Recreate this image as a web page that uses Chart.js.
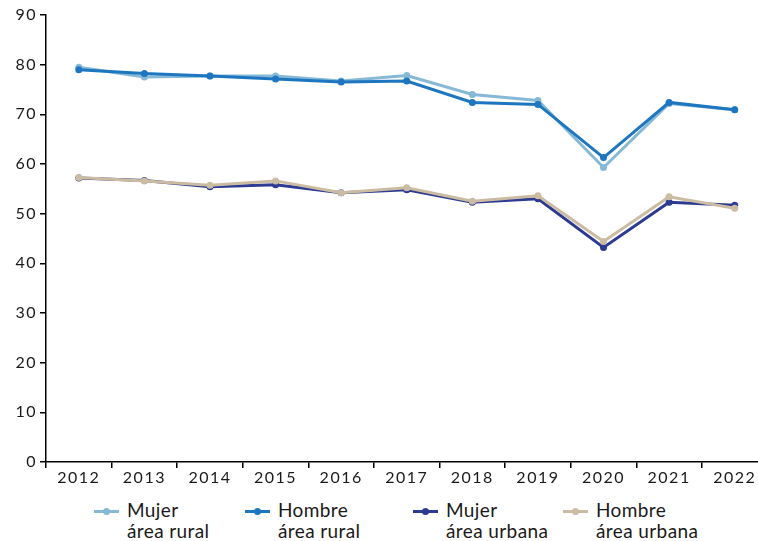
<!DOCTYPE html>
<html lang="es">
<head>
<meta charset="utf-8">
<title>Área rural y urbana</title>
<script src="https://cdn.jsdelivr.net/npm/chart.js@4.4.1/dist/chart.umd.min.js"></script>
<style>
  html, body { margin: 0; padding: 0; background: #fff; overflow: hidden; }
  body { width: 758px; height: 541px; position: relative; font-family: Lato, "Open Sans", sans-serif; }
  .chart-box { position: absolute; left: 0; top: 0; width: 771px; height: 492px; }
  .legend { position: absolute; top: 499px; left: 0; width: 758px; height: 42px; }
  .legend-item { position: absolute; top: 0; display: flex; align-items: flex-start; }
  .legend-marker { position: relative; width: 25px; height: 22px; margin-right: 8px; }
  .legend-marker .line { position: absolute; left: 0; right: 0; top: 11px; height: 2.5px; }
  .legend-marker .dot { position: absolute; left: 9px; top: 9px; width: 7px; height: 7px; border-radius: 50%; }
  .legend-text { font-size: 19px; line-height: 21px; letter-spacing: 0.4px; color: #1a1a1a; }
</style>
</head>
<body>
<div class="chart-box"><canvas id="chart"></canvas></div>
<div class="legend" id="legend"></div>

<script>
// Años (categorías del eje X)
const years = ['2012', '2013', '2014', '2015', '2016', '2017', '2018', '2019', '2020', '2021', '2022'];

// Series
const mujerRural    = [79.5, 77.5, 77.7, 77.7, 76.7, 77.8, 74.0, 72.8, 59.3, 72.2, 70.9];
const hombreRural   = [79.0, 78.2, 77.7, 77.1, 76.5, 76.7, 72.4, 72.0, 61.3, 72.4, 70.9];
const mujerUrbana   = [57.2, 56.7, 55.4, 55.8, 54.2, 54.8, 52.3, 53.0, 43.2, 52.3, 51.7];
const hombreUrbana  = [57.3, 56.6, 55.7, 56.6, 54.2, 55.2, 52.5, 53.6, 44.4, 53.4, 51.1];

const seriesLabels = [
  ['Mujer', 'área rural'],
  ['Hombre', 'área rural'],
  ['Mujer', 'área urbana'],
  ['Hombre', 'área urbana']
];
const seriesColors = ['#86b9d6', '#1d76bf', '#2c3a92', '#cbbba2'];

const legendLeft = [94, 245, 413, 563];

const FONT = "Lato, 'Open Sans', sans-serif";

// spacing between letters for the tick labels (canvas letterSpacing)
const tickSpacing = {
  id: 'tickSpacing',
  beforeDraw(chart) { chart.ctx.letterSpacing = '1.5px'; },
  afterDraw(chart) { chart.ctx.letterSpacing = '0px'; }
};

const Sheet = {
  init() {
    this.renderChart();
    this.renderLegend();
  },

  makeDataset(i, values) {
    return {
      label: seriesLabels[i].join(' '),
      data: values,
      borderColor: seriesColors[i],
      backgroundColor: seriesColors[i],
      borderWidth: 3,
      pointRadius: 3.5,
      pointHoverRadius: 3.5,
      pointBorderWidth: 0,
      tension: 0,
      order: 4 - i
    };
  },

  renderChart() {
    const ctx = document.getElementById('chart');
    new Chart(ctx, {
      type: 'line',
      data: {
        labels: years,
        datasets: [
          this.makeDataset(0, mujerRural),
          this.makeDataset(1, hombreRural),
          this.makeDataset(2, mujerUrbana),
          this.makeDataset(3, hombreUrbana)
        ]
      },
      plugins: [tickSpacing],
      options: {
        responsive: true,
        maintainAspectRatio: false,
        animation: false,
        layout: { padding: { top: 15, right: 1, left: 0, bottom: 0 } },
        plugins: {
          legend: { display: false },
          tooltip: { enabled: false }
        },
        scales: {
          x: {
            type: 'category',
            offset: true,
            grid: {
              offset: true,
              drawOnChartArea: false,
              drawTicks: true,
              tickLength: 6,
              color: '#000',
              lineWidth: 1.5
            },
            border: { color: '#000', width: 1.5 },
            ticks: {
              color: '#1a1a1a',
              font: { family: FONT, size: 16 },
              padding: 0,
              maxRotation: 0,
              autoSkip: false
            },
            afterFit(scale) { scale.height = 30; }
          },
          y: {
            min: 0,
            max: 90,
            grid: {
              drawOnChartArea: false,
              drawTicks: true,
              tickLength: 6,
              color: '#000',
              lineWidth: 1.5
            },
            border: { color: '#000', width: 1.5 },
            ticks: {
              stepSize: 10,
              color: '#1a1a1a',
              font: { family: FONT, size: 16 },
              padding: 3
            },
            afterFit(scale) { scale.width = 46; }
          }
        }
      }
    });
  },

  renderLegend() {
    const box = document.getElementById('legend');
    box.innerHTML = seriesLabels.map((lines, i) => `
      <div class="legend-item" style="left:${legendLeft[i]}px">
        <div class="legend-marker">
          <div class="line" style="background:${seriesColors[i]}"></div>
          <div class="dot" style="background:${seriesColors[i]}"></div>
        </div>
        <div class="legend-text">${lines[0]}<br>${lines[1]}</div>
      </div>
    `).join('');
  }
};

document.addEventListener('DOMContentLoaded', () => Sheet.init());
</script>
</body>
</html>
